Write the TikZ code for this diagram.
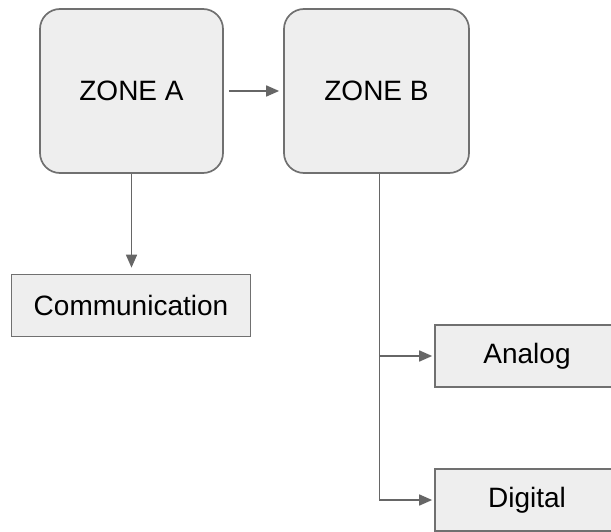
\documentclass[tikz,border=0pt]{standalone}
\usepackage{fontspec}
\setmainfont{Liberation Sans}
\usetikzlibrary{arrows.meta}
\usetikzlibrary{calc}
\definecolor{boxfill}{HTML}{EEEEEE}
\definecolor{boxline}{HTML}{707070}
\definecolor{linegray}{HTML}{666666}
\tikzset{zone/.style={draw=boxline,fill=boxfill,line width=1.7pt,rounded corners=20pt,minimum width=#1,minimum height=164pt,inner sep=0pt,font=\fontsize{28}{34}\selectfont},zone/.default=184pt}
\tikzset{leaf/.style={draw=boxline,fill=boxfill,line width=1.7pt,minimum width=#1,minimum height=62pt,inner sep=0pt,font=\fontsize{28}{34}\selectfont},leaf/.default=184pt}
\tikzset{link/.style={draw=linegray,line width=1.7pt,-{Triangle[length=13pt,width=11pt]}}}

\begin{document}
\begin{tikzpicture}[x=1pt,y=-1pt]
	\useasboundingbox (0,0) rectangle (611,532);

	% As zonas
	\node [zone=183pt] (zoneA) at (131.5,91) {ZONE A};
	\node [zone=185pt] (zoneB) at (376.5,91) {ZONE B};

	% As folhas
	\node [leaf=239pt] (comm) at (131,305.5) {Communication};
	\node [leaf] (analog) at (527,356) {Analog};
	\node [leaf] (digital) at (527,500) {Digital};

	% Ligações
	\draw [link,shorten <=5pt,shorten >=4pt] (zoneA.east) -- (zoneB.west);
	\draw [link,shorten >=6pt] (zoneA.south) -- (zoneA.south |- comm.north);

	\coordinate (trunk) at ($(zoneB.south) + (3,0)$);
	\draw [link,shorten >=2pt] (trunk) -- (trunk |- digital.west) -- (digital.west);
	\draw [link,shorten >=2pt] (trunk |- analog.west) -- (analog.west);
\end{tikzpicture}
\end{document}
